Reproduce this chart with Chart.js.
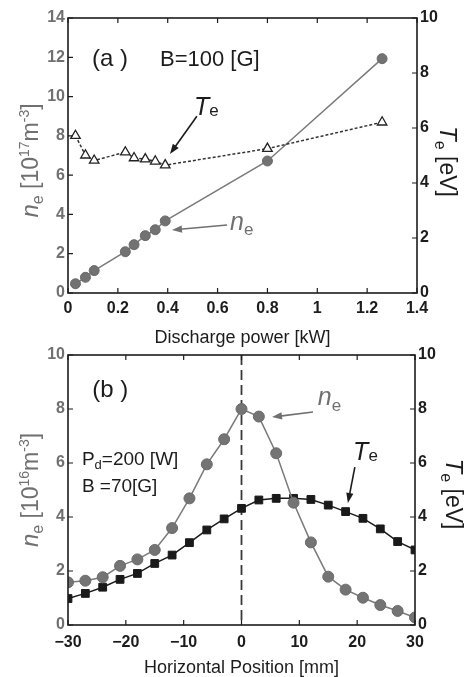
<!DOCTYPE html>
<html>
<head>
<meta charset="utf-8">
<title>Discharge power and horizontal profiles</title>
<script src="https://cdn.jsdelivr.net/npm/chart.js@4.4.1/dist/chart.umd.min.js"></script>
<style>
  html, body { margin: 0; padding: 0; background: #fff; }
  #wrap { position: relative; width: 468px; height: 677px; overflow: hidden; }
  canvas { position: absolute; left: 0; }
  #chartA { top: 0; }
  #chartB { top: 332px; }
</style>
</head>
<body>
<div id="wrap">
  <canvas id="chartB" width="468" height="345"></canvas>
  <canvas id="chartA" width="468" height="350"></canvas>
</div>
<script>
// (a) B = 100 G, power scan
const powerKW = [0.03, 0.07, 0.105, 0.23, 0.265, 0.31, 0.35, 0.39, 0.80, 1.26];
const neA = [0.47, 0.80, 1.14, 2.10, 2.46, 2.92, 3.22, 3.67, 6.72, 11.93]; // 10^17 m^-3
const teA = [5.72, 5.01, 4.82, 5.12, 4.91, 4.87, 4.79, 4.65, 5.25, 6.21];  // eV

// (b) Pd = 200 W, B = 70 G, horizontal profile
const positionMM = [-30, -27, -24, -21, -18, -15, -12, -9, -6, -3, 0, 3, 6, 9, 12, 15, 18, 21, 24, 27, 30];
const neB = [1.58, 1.64, 1.77, 2.19, 2.43, 2.78, 3.59, 4.69, 5.95, 6.88, 8.0, 7.72, 6.36, 4.53, 3.06, 1.79, 1.31, 1.01, 0.74, 0.52, 0.28]; // 10^16 m^-3
const teB = [0.98, 1.17, 1.40, 1.69, 1.91, 2.28, 2.59, 3.05, 3.52, 3.93, 4.32, 4.63, 4.69, 4.69, 4.65, 4.44, 4.20, 3.95, 3.56, 3.09, 2.78]; // eV

const FONT = '"Liberation Sans", Arial, sans-serif';
const GRAY = '#707070';
const INK = '#1c1c1c';

const fontOf = p => `${p[2] || ''} ${p[1]}px ${FONT}`;

// draw a run of text pieces [text, size, style, dy]
function rich(ctx, x, y, parts, color, angle = 0, align = 'left') {
  ctx.save();
  ctx.fillStyle = color;
  ctx.textBaseline = 'alphabetic';
  ctx.textAlign = 'left';
  let total = 0;
  const widths = parts.map(p => {
    ctx.font = fontOf(p);
    const w = ctx.measureText(p[0]).width;
    total += w;
    return w;
  });
  ctx.translate(x, y);
  ctx.rotate(angle);
  let cx = align === 'center' ? -total / 2 : 0;
  parts.forEach((p, i) => {
    ctx.font = fontOf(p);
    ctx.fillText(p[0], cx, p[3] || 0);
    cx += widths[i];
  });
  ctx.restore();
}

function arrow(ctx, x1, y1, x2, y2, color) {
  const ang = Math.atan2(y2 - y1, x2 - x1);
  const len = 10, half = 3.6;
  ctx.save();
  ctx.strokeStyle = color;
  ctx.fillStyle = color;
  ctx.lineWidth = 1.6;
  ctx.beginPath();
  ctx.moveTo(x1, y1);
  ctx.lineTo(x2 - Math.cos(ang) * len * 0.8, y2 - Math.sin(ang) * len * 0.8);
  ctx.stroke();
  ctx.beginPath();
  ctx.moveTo(x2, y2);
  ctx.lineTo(x2 - Math.cos(ang) * len - Math.sin(ang) * half, y2 - Math.sin(ang) * len + Math.cos(ang) * half);
  ctx.lineTo(x2 - Math.cos(ang) * len + Math.sin(ang) * half, y2 - Math.sin(ang) * len - Math.cos(ang) * half);
  ctx.closePath();
  ctx.fill();
  ctx.restore();
}

const neTitle = exp => [['n', 24, 'italic'], ['e', 16, '', 5], [' [10', 23], [exp, 14, '', -9], ['m', 23], ['-3', 14, '', -9], [']', 23]];
const teTitle = [['T', 24, 'italic'], ['e', 16, '', 5], [' [eV]', 23]];

// frame, inward ticks, axis titles and labels
function makeDeco(cfg) {
  return {
    id: 'deco',
    beforeDatasetsDraw(chart) {
      const { ctx, chartArea: a, scales } = chart;
      if (cfg.centerLine !== undefined) {
        const px = scales.x.getPixelForValue(cfg.centerLine);
        ctx.save();
        ctx.strokeStyle = '#3a3a3a';
        ctx.lineWidth = 1.8;
        ctx.setLineDash([10, 5]);
        ctx.beginPath();
        ctx.moveTo(px, a.top);
        ctx.lineTo(px, a.bottom);
        ctx.stroke();
        ctx.restore();
      }
    },
    afterDatasetsDraw(chart) {
      const { ctx, chartArea: a, scales } = chart;
      ctx.save();
      ctx.strokeStyle = INK;
      ctx.lineWidth = 1.2;
      ctx.beginPath();
      scales.x.ticks.forEach(t => {
        const px = scales.x.getPixelForValue(t.value);
        ctx.moveTo(px, a.bottom); ctx.lineTo(px, a.bottom - 5);
        ctx.moveTo(px, a.top); ctx.lineTo(px, a.top + 5);
      });
      scales.y.ticks.forEach(t => {
        const py = scales.y.getPixelForValue(t.value);
        ctx.moveTo(a.left, py); ctx.lineTo(a.left + 5, py);
      });
      scales.y2.ticks.forEach(t => {
        const py = scales.y2.getPixelForValue(t.value);
        ctx.moveTo(a.right, py); ctx.lineTo(a.right - 5, py);
      });
      ctx.stroke();
      ctx.lineWidth = 1.6;
      ctx.strokeRect(a.left, a.top, a.right - a.left, a.bottom - a.top);
      ctx.restore();

      const midY = (a.top + a.bottom) / 2;
      rich(ctx, cfg.leftTitleX, midY + cfg.leftTitleDy, neTitle(cfg.exp), GRAY, -Math.PI / 2, 'center');
      rich(ctx, cfg.rightTitleX, midY + cfg.rightTitleDy, teTitle, INK, Math.PI / 2, 'center');
      rich(ctx, (a.left + a.right) / 2, cfg.xTitleY, [[cfg.xTitle, 18]], INK, 0, 'center');

      cfg.labels.forEach(l => {
        rich(ctx, scales.x.getPixelForValue(l.x), scales.y.getPixelForValue(l.y), l.parts, l.color);
      });
      cfg.arrows.forEach(r => {
        arrow(ctx,
          scales.x.getPixelForValue(r.from[0]), scales.y.getPixelForValue(r.from[1]),
          scales.x.getPixelForValue(r.to[0]), scales.y.getPixelForValue(r.to[1]), r.color);
      });
    }
  };
}

const tickFont = { family: FONT, size: 16, weight: 'bold' };

function axes(xMin, xMax, xStep, yMax, y2Max, xPad, leftW, rightW, xH) {
  return {
    x: {
      type: 'linear', min: xMin, max: xMax,
      grid: { display: false, drawTicks: false }, border: { display: false },
      ticks: { stepSize: xStep, color: INK, font: tickFont, padding: xPad,
        callback: v => String(Math.round(v * 10) / 10).replace('-', '\u2212') },
      afterFit: s => { s.height = xH; }
    },
    y: {
      position: 'left', min: 0, max: yMax,
      grid: { display: false, drawTicks: false }, border: { display: false },
      ticks: { stepSize: 2, color: GRAY, font: tickFont, padding: 3 },
      afterFit: s => { s.width = leftW; }
    },
    y2: {
      position: 'right', min: 0, max: y2Max,
      grid: { display: false, drawTicks: false }, border: { display: false },
      ticks: { stepSize: 2, color: INK, font: tickFont, padding: 3 },
      afterFit: s => { s.width = rightW; }
    }
  };
}

const baseOpts = {
  responsive: false,
  animation: false,
  plugins: { legend: { display: false }, tooltip: { enabled: false } }
};

new Chart(document.getElementById('chartA'), {
  type: 'line',
  data: {
    datasets: [
      {
        data: powerKW.map((x, i) => ({ x, y: teA[i] })),
        yAxisID: 'y2',
        borderColor: '#333', borderWidth: 1.5, borderDash: [3, 2],
        pointStyle: 'triangle', pointRadius: 5.5,
        pointBackgroundColor: '#fff', pointBorderColor: '#222', pointBorderWidth: 1.3
      },
      {
        data: powerKW.map((x, i) => ({ x, y: neA[i] })),
        yAxisID: 'y',
        borderColor: '#7a7a7a', borderWidth: 1.5,
        pointStyle: 'circle', pointRadius: 5,
        pointBackgroundColor: '#727272', pointBorderColor: '#6a6a6a', pointBorderWidth: 1
      }
    ]
  },
  options: {
    ...baseOpts,
    layout: { padding: { top: 18, left: 0, right: 0, bottom: 0 } },
    scales: axes(0, 1.4, 0.2, 14, 10, 6, 68, 51, 57)
  },
  plugins: [makeDeco({
    exp: '17',
    leftTitleX: 38, leftTitleDy: 5,
    rightTitleX: 440, rightTitleDy: 6,
    xTitle: 'Discharge power [kW]', xTitleY: 343,
    labels: [
      { x: 0.096, y: 11.55, parts: [['(', 24], ['a', 24], [' )', 24]], color: INK },
      { x: 0.369, y: 11.55, parts: [['B=100 [G]', 22]], color: INK },
      { x: 0.505, y: 9.06, parts: [['T', 25, 'italic'], ['e', 17, '', 1]], color: INK },
      { x: 0.65, y: 3.21, parts: [['n', 25, 'italic'], ['e', 17, '', 5]], color: GRAY }
    ],
    arrows: [
      { from: [0.517, 9.0], to: [0.409, 7.08], color: INK },
      { from: [0.638, 3.46], to: [0.417, 3.21], color: GRAY }
    ]
  })]
});

new Chart(document.getElementById('chartB'), {
  type: 'line',
  data: {
    datasets: [
      {
        data: positionMM.map((x, i) => ({ x, y: neB[i] })),
        yAxisID: 'y',
        borderColor: '#7a7a7a', borderWidth: 1.5,
        pointStyle: 'circle', pointRadius: 5.5,
        pointBackgroundColor: '#747474', pointBorderColor: '#6a6a6a', pointBorderWidth: 1
      },
      {
        data: positionMM.map((x, i) => ({ x, y: teB[i] })),
        yAxisID: 'y2',
        borderColor: '#1a1a1a', borderWidth: 1.5,
        pointStyle: 'rect', pointRadius: 5.5,
        pointBackgroundColor: '#1a1a1a', pointBorderColor: '#1a1a1a', pointBorderWidth: 1
      }
    ]
  },
  options: {
    ...baseOpts,
    layout: { padding: { top: 23, left: 0, right: 0, bottom: 0 } },
    scales: axes(-30, 30, 10, 10, 10, 8, 68, 53, 52)
  },
  plugins: [makeDeco({
    exp: '16',
    centerLine: 0,
    leftTitleX: 38, leftTitleDy: 0,
    rightTitleX: 446, rightTitleDy: 4,
    xTitle: 'Horizontal Position [mm]', xTitleY: 341,
    labels: [
      { x: -25.8, y: 8.44, parts: [['(', 24], ['b', 24], [' )', 24]], color: INK },
      { x: -27.6, y: 5.93, parts: [['P', 19], ['d', 13, '', 4], ['=200 [W]', 19]], color: INK },
      { x: -27.6, y: 4.93, parts: [['B =70[G]', 19]], color: INK },
      { x: 13.2, y: 8.15, parts: [['n', 25, 'italic'], ['e', 17, '', 6]], color: GRAY },
      { x: 19.3, y: 6.11, parts: [['T', 25, 'italic'], ['e', 17, '', 1]], color: INK }
    ],
    arrows: [
      { from: [12.36, 7.89], to: [5.27, 7.70], color: GRAY },
      { from: [19.6, 5.85], to: [18.4, 4.52], color: INK }
    ]
  })]
});
</script>
</body>
</html>
